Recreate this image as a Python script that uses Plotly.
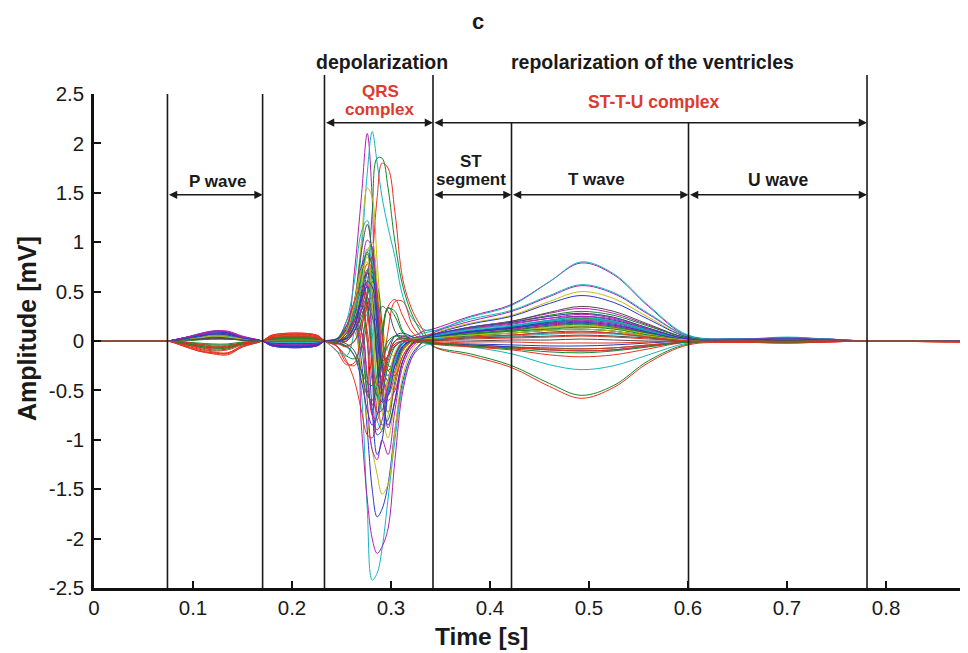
import plotly.graph_objects as go

# ---------------- data ----------------
time_s = [0.000, 0.030, 0.060, 0.074, 0.090, 0.105, 0.120, 0.135, 0.150, 0.170,
          0.180, 0.225, 0.233, 0.245, 0.255, 0.263, 0.270, 0.276, 0.281, 0.286,
          0.291, 0.297, 0.304, 0.312, 0.322, 0.333, 0.342, 0.380, 0.422, 0.460,
          0.492, 0.525, 0.560, 0.600, 0.650, 0.700, 0.740, 0.780, 0.830, 0.875]

# each beat: start(4) | P wave(5) | 0.17 | PR(2) | 0.233 | QRS 0.245..0.342 (14) | ST/T 0.38..0.60 (7) | U/tail (6)
ecg_01 = [0, 0, 0, 0, 0.03, 0.06, 0.09, 0.08, 0.04, 0, 0.02, 0.02, 0, -0.02, 0.1, 0.7, 1.45, 2.1, 1.45, -0.1, -0.25, -0.15, 0.0, 0.05, 0.05, 0.1, 0.12, 0.25, 0.37, 0.6, 0.79, 0.67, 0.35, 0.05, 0.02, 0.03, 0.02, 0, 0.005, 0]
ecg_02 = [0, 0, 0, 0, 0.03, 0.07, 0.1, 0.09, 0.04, 0, 0.01, 0.01, 0, 0.0, 0.05, 0.3, 0.9, 1.7, 2.12, 1.8, 1.45, 1.15, 0.85, 0.45, 0.22, 0.12, 0.1, 0.24, 0.36, 0.6, 0.8, 0.68, 0.36, 0.06, 0.02, 0.04, 0.02, 0, 0.005, 0]
ecg_03 = [0, 0, 0, 0, 0.01, 0.03, 0.05, 0.04, 0.02, 0, 0.03, 0.03, 0, -0.05, -0.15, -0.18, -0.05, 0.5, 1.3, 1.85, 1.85, 1.55, 1.0, 0.55, 0.25, 0.05, -0.05, -0.13, -0.25, -0.43, -0.55, -0.45, -0.2, -0.03, -0.01, -0.01, -0.005, 0, 0, -0.005]
ecg_04 = [0, 0, 0, 0, -0.05, -0.1, -0.13, -0.14, -0.06, 0, 0.06, 0.06, 0, -0.05, -0.22, -0.25, -0.1, 0.2, 0.8, 1.45, 1.8, 1.75, 1.3, 0.62, 0.3, 0.1, -0.05, -0.15, -0.27, -0.46, -0.58, -0.47, -0.22, -0.04, -0.015, -0.02, -0.01, 0, -0.005, -0.01]
ecg_05 = [0, 0, 0, 0, 0.02, 0.05, 0.08, 0.07, 0.03, 0, 0.0, 0.0, 0, 0.0, 0.1, 0.4, 1.0, 1.55, 1.45, 0.8, 0.2, -0.1, -0.15, -0.05, 0.02, 0.05, 0.08, 0.18, 0.26, 0.4, 0.5, 0.43, 0.24, 0.04, 0.01, 0.02, 0.01, 0, 0.005, 0]
ecg_06 = [0, 0, 0, 0, 0.01, 0.02, 0.04, 0.03, 0.01, 0, -0.02, -0.02, 0, 0.02, 0.15, 0.1, -0.5, -1.7, -2.42, -2.35, -2.1, -1.6, -1.0, -0.45, -0.15, -0.05, -0.03, -0.06, -0.13, -0.24, -0.29, -0.25, -0.14, -0.02, 0.0, 0.01, 0.005, 0, 0, 0]
ecg_07 = [0, 0, 0, 0, 0.03, 0.06, 0.09, 0.08, 0.04, 0, -0.04, -0.04, 0, 0.02, 0.1, 0.15, -0.85, -1.6, -2.0, -2.15, -2.08, -1.9, -1.2, -0.5, -0.15, 0.0, 0.08, 0.2, 0.3, 0.45, 0.56, 0.48, 0.27, 0.05, 0.02, 0.03, 0.02, 0, 0.005, 0]
ecg_08 = [0, 0, 0, 0, 0.02, 0.04, 0.06, 0.05, 0.02, 0, -0.05, -0.05, 0, 0.0, 0.1, 0.2, -0.2, -0.9, -1.5, -1.78, -1.7, -1.45, -0.9, -0.4, -0.12, 0.0, 0.06, 0.17, 0.25, 0.38, 0.46, 0.39, 0.22, 0.04, 0.02, 0.03, 0.02, 0, 0, -0.005]
ecg_09 = [0, 0, 0, 0, 0.01, 0.03, 0.04, 0.035, 0.015, 0, 0.01, 0.01, 0, 0.0, 0.05, 0.1, -0.3, -0.8, -1.1, -1.35, -1.55, -1.45, -0.9, -0.35, -0.08, 0.02, 0.05, 0.1, 0.14, 0.19, 0.22, 0.19, 0.1, 0.02, 0.01, 0.01, 0.01, 0, 0, 0]
ecg_10 = [0, 0, 0, 0, 0.02, 0.05, 0.08, 0.07, 0.03, 0, -0.03, -0.03, 0, 0.0, 0.2, 0.35, 0.1, -0.6, -1.1, -1.2, -1.0, -1.15, -0.7, -0.25, -0.05, 0.03, 0.06, 0.14, 0.2, 0.28, 0.33, 0.28, 0.16, 0.03, 0.01, 0.02, 0.01, 0, 0, 0]
ecg_11 = [0, 0, 0, 0, 0.03, 0.06, 0.09, 0.08, 0.03, 0, 0.0, 0.0, 0, 0.0, 0.2, 0.6, 1.1, 1.22, 0.7, -0.2, -0.7, -0.5, -0.2, 0.0, 0.05, 0.08, 0.1, 0.22, 0.31, 0.46, 0.57, 0.49, 0.28, 0.05, 0.02, 0.03, 0.02, 0, 0.005, 0]
ecg_12 = [0, 0, 0, 0, 0.02, 0.04, 0.06, 0.05, 0.02, 0, 0.02, 0.02, 0, -0.03, 0.05, 0.4, 0.9, 1.18, 0.9, 0.3, -0.2, -0.35, -0.2, -0.05, 0.02, 0.05, 0.06, 0.14, 0.2, 0.29, 0.35, 0.3, 0.17, 0.03, 0.01, 0.02, 0.01, 0, 0, 0]
ecg_13 = [0, 0, 0, 0, 0.02, 0.05, 0.07, 0.06, 0.03, 0, -0.02, -0.02, 0, 0.0, 0.05, 0.25, 0.7, 1.02, 0.95, 0.4, -0.3, -0.55, -0.35, -0.1, 0.0, 0.02, 0.03, 0.09, 0.13, 0.18, 0.21, 0.18, 0.1, 0.02, 0.01, 0.01, 0.01, 0, 0, 0]
ecg_14 = [0, 0, 0, 0, 0.02, 0.04, 0.05, 0.04, 0.02, 0, -0.04, -0.04, 0, -0.02, 0.1, 0.35, 0.75, 0.88, 0.5, -0.2, -0.6, -0.5, -0.2, -0.05, 0.0, 0.02, 0.04, 0.1, 0.15, 0.21, 0.25, 0.21, 0.12, 0.02, 0.01, 0.02, 0.01, 0, 0, -0.005]
ecg_15 = [0, 0, 0, 0, -0.02, -0.04, -0.06, -0.05, -0.02, 0, 0.02, 0.02, 0, 0.0, 0.05, 0.15, 0.45, 0.72, 0.7, 0.0, -0.85, -0.8, -0.4, -0.1, 0.0, 0.03, 0.05, 0.13, 0.19, 0.26, 0.3, 0.26, 0.15, 0.03, 0.01, 0.01, 0.005, 0, 0, 0]
ecg_16 = [0, 0, 0, 0, -0.04, -0.08, -0.11, -0.12, -0.05, 0, 0.05, 0.05, 0, -0.05, -0.2, -0.4, -0.7, -0.95, -0.98, -0.6, 0.0, 0.35, 0.42, 0.25, 0.08, 0.0, -0.03, -0.06, -0.09, -0.14, -0.16, -0.14, -0.08, -0.01, -0.01, -0.015, -0.01, 0, -0.005, -0.01]
ecg_17 = [0, 0, 0, 0, 0.03, 0.06, 0.09, 0.085, 0.04, 0, -0.05, -0.05, 0, 0.0, 0.15, 0.4, 0.6, 0.4, -0.3, -0.95, -0.9, -0.5, -0.15, 0.0, 0.03, 0.02, 0.02, 0.07, 0.1, 0.13, 0.15, 0.13, 0.07, 0.01, 0.01, 0.02, 0.01, 0, 0, 0]
ecg_18 = [0, 0, 0, 0, -0.02, -0.05, -0.07, -0.06, -0.02, 0, 0.01, 0.01, 0, 0.02, 0.1, 0.3, 0.2, -0.4, -0.7, -0.5, 0.0, 0.33, 0.3, 0.1, 0.0, 0.02, 0.04, 0.1, 0.14, 0.2, 0.23, 0.2, 0.11, 0.02, 0.01, 0.01, 0.005, 0, 0, 0]
ecg_19 = [0, 0, 0, 0, -0.03, -0.07, -0.1, -0.09, -0.04, 0, 0.04, 0.04, 0, -0.03, 0.0, 0.15, 0.5, 0.78, 0.75, 0.3, -0.5, -0.72, -0.45, -0.15, -0.02, 0.0, 0.0, 0.07, 0.11, 0.16, 0.18, 0.15, 0.08, 0.01, -0.005, -0.01, -0.005, 0, 0, -0.005]
ecg_20 = [0, 0, 0, 0, 0.02, 0.05, 0.07, 0.07, 0.03, 0, 0.0, 0.0, 0, 0.0, 0.05, 0.2, 0.45, 0.55, 0.1, -0.8, -0.9, -0.55, -0.2, -0.03, 0.02, 0.04, 0.05, 0.1, 0.14, 0.18, 0.2, 0.17, 0.09, 0.02, 0.01, 0.02, 0.01, 0, 0, 0]
ecg_21 = [0, 0, 0, 0, 0.03, 0.06, 0.1, 0.1, 0.05, 0, -0.045, -0.045, 0, 0.0, 0.0, 0.1, 0.3, 0.6, 0.75, 0.5, -0.1, -0.6, -0.5, -0.2, -0.03, 0.02, 0.05, 0.12, 0.17, 0.23, 0.27, 0.23, 0.13, 0.02, 0.015, 0.025, 0.015, 0, 0, 0]
ecg_22 = [0, 0, 0, 0, 0.01, 0.03, 0.05, 0.05, 0.02, 0, 0.01, 0.01, 0, 0.0, 0.1, 0.35, 0.7, 0.85, 0.55, -0.3, -0.92, -0.75, -0.35, -0.08, 0.02, 0.04, 0.06, 0.14, 0.19, 0.25, 0.28, 0.24, 0.13, 0.02, 0.01, 0.01, 0.01, 0, 0, 0]
ecg_23 = [0, 0, 0, 0, 0.01, 0.02, 0.03, 0.03, 0.01, 0, 0.0, 0.0, 0, 0.0, 0.02, 0.1, 0.3, 0.44, 0.3, 0.2, 0.35, 0.3, 0.1, 0.0, -0.02, 0.0, 0.02, 0.05, 0.08, 0.11, 0.12, 0.1, 0.05, 0.01, 0.005, 0.01, 0.005, 0, 0, 0]
ecg_24 = [0, 0, 0, 0, 0.02, 0.03, 0.04, 0.03, 0.01, 0, -0.03, -0.03, 0, -0.02, -0.05, -0.15, -0.4, -0.7, -0.85, -0.75, -0.45, -0.15, 0.05, 0.08, 0.04, 0.0, -0.02, -0.03, -0.04, -0.05, -0.05, -0.04, -0.02, 0.0, 0.0, 0.0, 0.0, 0, 0, 0]
ecg_25 = [0, 0, 0, 0, -0.03, -0.06, -0.09, -0.08, -0.03, 0, 0.03, 0.03, 0, 0.02, 0.15, 0.25, -0.05, -0.5, -0.65, -0.35, 0.1, 0.34, 0.25, 0.08, 0.0, -0.02, -0.03, -0.04, -0.06, -0.07, -0.08, -0.07, -0.04, -0.01, -0.005, -0.01, -0.005, 0, 0, -0.005]
ecg_26 = [0, 0, 0, 0, -0.04, -0.09, -0.12, -0.13, -0.06, 0, 0.05, 0.055, 0, -0.1, -0.24, -0.22, 0.1, 0.5, 0.65, 0.3, -0.3, -0.5, -0.3, -0.08, 0.0, 0.0, 0.0, 0.02, 0.03, 0.04, 0.05, 0.04, 0.02, 0.0, -0.01, -0.02, -0.01, 0, -0.005, -0.01]
ecg_27 = [0, 0, 0, 0, 0.02, 0.04, 0.06, 0.06, 0.02, 0, -0.01, -0.01, 0, -0.1, -0.15, 0.1, 0.6, 0.93, 0.8, 0.2, -0.3, -0.35, -0.15, -0.02, 0.03, 0.05, 0.06, 0.12, 0.16, 0.21, 0.24, 0.2, 0.11, 0.02, 0.01, 0.02, 0.01, 0, 0, 0]
ecg_28 = [0, 0, 0, 0, 0.03, 0.07, 0.1, 0.09, 0.04, 0, -0.05, -0.05, 0, 0.0, 0.1, 0.3, 0.5, 0.45, -0.1, -0.72, -0.7, -0.4, -0.15, -0.02, 0.02, 0.03, 0.04, 0.09, 0.12, 0.16, 0.18, 0.15, 0.08, 0.01, 0.015, 0.02, 0.01, 0, 0, 0]
ecg_29 = [0, 0, 0, 0, 0.02, 0.04, 0.06, 0.05, 0.02, 0, 0.02, 0.02, 0, 0.0, 0.02, 0.15, 0.4, 0.62, 0.6, 0.1, -0.7, -0.98, -0.6, -0.2, -0.03, 0.02, 0.03, 0.07, 0.1, 0.14, 0.16, 0.13, 0.07, 0.01, 0.01, 0.01, 0.005, 0, 0, 0]
ecg_30 = [0, 0, 0, 0, 0.01, 0.03, 0.05, 0.04, 0.02, 0, 0.01, 0.01, 0, 0.0, 0.05, 0.2, 0.5, 0.7, 0.45, -0.2, -0.4, -0.2, 0.0, 0.03, 0.02, 0.01, 0.01, 0.04, 0.06, 0.09, 0.1, 0.08, 0.04, 0.0, 0.005, 0.01, 0.005, 0, 0, 0]
ecg_31 = [0, 0, 0, 0, 0.03, 0.06, 0.08, 0.08, 0.03, 0, -0.04, -0.04, 0, 0.02, 0.12, 0.3, 0.35, 0.0, -0.7, -1.15, -1.0, -0.5, -0.15, 0.0, 0.02, 0.0, -0.02, -0.04, -0.06, -0.09, -0.1, -0.09, -0.05, -0.01, 0.0, 0.01, 0.005, 0, 0, 0]
ecg_32 = [0, 0, 0, 0, 0.0, 0.01, 0.02, 0.02, 0.01, 0, 0.025, 0.025, 0, -0.02, -0.05, 0.0, 0.2, 0.45, 0.6, 0.55, 0.15, -0.25, -0.25, -0.08, 0.0, 0.02, 0.03, 0.06, 0.08, 0.11, 0.12, 0.1, 0.05, 0.01, 0.005, 0.01, 0.005, 0, 0, 0]
ecg_33 = [0, 0, 0, 0, -0.02, -0.04, -0.06, -0.06, -0.03, 0, 0.045, 0.045, 0, 0.0, 0.1, 0.3, 0.4, 0.0, -0.75, -0.8, -0.4, 0.1, 0.4, 0.4, 0.15, 0.02, -0.02, -0.05, -0.07, -0.08, -0.08, -0.07, -0.04, -0.01, -0.01, -0.02, -0.01, 0, -0.005, -0.01]
ecg_34 = [0, 0, 0, 0, 0.01, 0.03, 0.05, 0.05, 0.02, 0, 0.0, 0.0, 0, 0.0, 0.05, 0.15, 0.3, 0.25, -0.1, -0.4, -0.35, -0.15, -0.03, 0.0, 0.01, 0.01, 0.02, 0.04, 0.05, 0.07, 0.08, 0.07, 0.04, 0.01, 0.01, 0.02, 0.01, 0, 0, 0]
ecg_35 = [0, 0, 0, 0, 0.03, 0.06, 0.09, 0.09, 0.04, 0, -0.035, -0.035, 0, 0.0, 0.0, 0.1, 0.35, 0.7, 0.85, 0.5, -0.3, -0.88, -0.6, -0.2, -0.03, 0.02, 0.04, 0.09, 0.13, 0.18, 0.2, 0.17, 0.09, 0.02, 0.01, 0.02, 0.01, 0, 0, 0]
ecg_36 = [0, 0, 0, 0, 0.02, 0.04, 0.07, 0.06, 0.03, 0, 0.015, 0.015, 0, 0.0, 0.05, 0.2, 0.55, 0.9, 1.0, 0.6, 0.0, -0.45, -0.35, -0.1, 0.0, 0.02, 0.03, 0.07, 0.1, 0.13, 0.15, 0.13, 0.07, 0.01, 0.01, 0.01, 0.005, 0, 0, 0]
ecg_37 = [0, 0, 0, 0, 0.01, 0.02, 0.03, 0.02, 0.01, 0, 0.005, 0.005, 0, 0.0, -0.03, -0.1, -0.3, -0.55, -0.6, -0.45, -0.2, -0.05, 0.05, 0.05, 0.02, 0.0, 0.0, 0.0, 0.01, 0.01, 0.02, 0.01, 0.0, 0.0, 0.0, 0.005, 0.0, 0, 0, 0]
ecg_38 = [0, 0, 0, 0, 0.02, 0.05, 0.08, 0.08, 0.03, 0, -0.045, -0.045, 0, 0.0, 0.05, 0.2, 0.42, 0.55, 0.4, -0.2, -0.62, -0.55, -0.25, -0.05, 0.01, 0.03, 0.05, 0.1, 0.14, 0.19, 0.22, 0.19, 0.1, 0.02, 0.01, 0.02, 0.01, 0, 0, 0]
ecg_39 = [0, 0, 0, 0, -0.01, -0.03, -0.04, -0.04, -0.02, 0, 0.02, 0.02, 0, 0.0, 0.05, 0.25, 0.65, 0.9, 0.75, 0.25, -0.2, -0.3, -0.15, -0.02, 0.02, 0.03, 0.04, 0.08, 0.11, 0.15, 0.17, 0.14, 0.08, 0.01, 0.005, 0.01, 0.005, 0, 0, 0]
ecg_40 = [0, 0, 0, 0, -0.05, -0.1, -0.12, -0.12, -0.05, 0, 0.06, 0.06, 0, 0.0, 0.05, 0.2, 0.3, 0.1, -0.4, -0.55, -0.4, -0.15, 0.0, 0.02, 0.0, -0.01, -0.02, -0.01, -0.01, -0.02, -0.02, -0.02, -0.01, 0.0, -0.01, -0.01, -0.005, 0, -0.005, -0.01]
ecg_41 = [0, 0, 0, 0, 0.02, 0.04, 0.07, 0.06, 0.03, 0, -0.02, -0.02, 0, 0.0, 0.03, 0.15, 0.45, 0.68, 0.65, 0.25, -0.25, -0.4, -0.25, -0.06, 0.01, 0.03, 0.04, 0.09, 0.13, 0.17, 0.19, 0.16, 0.09, 0.01, 0.01, 0.015, 0.01, 0, 0, 0]
ecg_42 = [0, 0, 0, 0, -0.01, -0.02, -0.03, -0.03, -0.01, 0, 0.015, 0.015, 0, 0.0, 0.08, 0.3, 0.5, 0.35, -0.2, -0.55, -0.5, -0.25, -0.06, 0.0, 0.02, 0.02, 0.03, 0.07, 0.1, 0.12, 0.14, 0.12, 0.06, 0.01, 0.005, 0.01, 0.005, 0, 0, 0]
ecg_43 = [0, 0, 0, 0, -0.03, -0.06, -0.08, -0.07, -0.03, 0, 0.035, 0.035, 0, -0.02, -0.06, 0.0, 0.15, 0.35, 0.45, 0.4, 0.05, -0.3, -0.35, -0.15, -0.03, 0.0, -0.01, -0.05, -0.07, -0.09, -0.1, -0.09, -0.05, -0.01, -0.005, -0.01, -0.005, 0, 0, -0.005]
ecg_44 = [0, 0, 0, 0, 0.02, 0.05, 0.08, 0.07, 0.03, 0, -0.01, -0.01, 0, 0.0, 0.1, 0.3, 0.55, 0.65, 0.3, -0.45, -0.7, -0.5, -0.2, -0.03, 0.02, 0.04, 0.05, 0.11, 0.15, 0.2, 0.22, 0.19, 0.1, 0.02, 0.01, 0.02, 0.01, 0, 0, 0]
ecg_45 = [0, 0, 0, 0, 0.03, 0.06, 0.08, 0.07, 0.03, 0, -0.03, -0.03, 0, 0.0, 0.08, 0.2, 0.1, -0.35, -0.75, -0.9, -0.8, -0.45, -0.15, -0.02, 0.03, 0.05, 0.07, 0.13, 0.18, 0.23, 0.25, 0.22, 0.12, 0.02, 0.01, 0.02, 0.01, 0, 0, 0]
ecg_46 = [0, 0, 0, 0, 0.01, 0.03, 0.05, 0.04, 0.02, 0, 0.005, 0.005, 0, 0.0, 0.1, 0.4, 0.72, 0.8, 0.4, -0.45, -0.6, -0.4, -0.12, 0.0, 0.02, 0.02, 0.03, 0.06, 0.08, 0.11, 0.12, 0.1, 0.05, 0.01, 0.005, 0.01, 0.005, 0, 0, 0]
ecg_47 = [0, 0, 0, 0, 0.01, 0.02, 0.02, 0.02, 0.01, 0, 0.0, 0.0, 0, 0.0, 0.02, 0.1, 0.25, 0.35, 0.25, 0.0, -0.2, -0.15, -0.05, 0.0, 0.01, 0.01, 0.01, 0.03, 0.04, 0.05, 0.06, 0.05, 0.03, 0.0, 0.0, 0.005, 0.0, 0, 0, 0]
ecg_48 = [0, 0, 0, 0, 0.02, 0.05, 0.07, 0.07, 0.03, 0, -0.04, -0.04, 0, 0.0, 0.03, 0.15, 0.4, 0.6, 0.55, 0.1, -0.55, -0.85, -0.6, -0.2, -0.02, 0.03, 0.06, 0.14, 0.19, 0.25, 0.28, 0.24, 0.13, 0.02, 0.01, 0.02, 0.01, 0, 0, 0]
ecg_49 = [0, 0, 0, 0, -0.02, -0.05, -0.07, -0.07, -0.03, 0, 0.03, 0.03, 0, -0.02, -0.06, -0.15, -0.3, -0.42, -0.45, -0.35, -0.15, 0.0, 0.05, 0.03, 0.0, -0.01, -0.02, -0.05, -0.08, -0.11, -0.12, -0.1, -0.06, -0.01, -0.005, -0.01, -0.005, 0, 0, -0.005]
ecg_50 = [0, 0, 0, 0, -0.01, -0.03, -0.05, -0.05, -0.02, 0, 0.03, 0.03, 0, 0.0, 0.15, 0.4, 0.55, 0.3, -0.2, -0.45, -0.35, -0.15, -0.03, 0.0, 0.01, 0.01, 0.01, 0.04, 0.06, 0.08, 0.09, 0.08, 0.04, 0.0, 0.0, -0.005, 0.0, 0, 0, -0.005]

ecg_beats = [ecg_01, ecg_02, ecg_03, ecg_04, ecg_05, ecg_06, ecg_07, ecg_08, ecg_09, ecg_10,
             ecg_11, ecg_12, ecg_13, ecg_14, ecg_15, ecg_16, ecg_17, ecg_18, ecg_19, ecg_20,
             ecg_21, ecg_22, ecg_23, ecg_24, ecg_25, ecg_26, ecg_27, ecg_28, ecg_29, ecg_30,
             ecg_31, ecg_32, ecg_33, ecg_34, ecg_35, ecg_36, ecg_37, ecg_38, ecg_39, ecg_40,
             ecg_41, ecg_42, ecg_43, ecg_44, ecg_45, ecg_46, ecg_47, ecg_48, ecg_49, ecg_50]

# MATLAB-style colour letter for each beat
beat_colors = ["m", "c", "g", "r", "y", "c", "m", "b", "y", "m",
               "c", "k", "m", "b", "g", "r", "b", "g", "r", "c",
               "m", "y", "k", "b", "g", "r", "c", "m", "y", "k",
               "b", "g", "r", "c", "m", "y", "k", "b", "g", "r",
               "b", "g", "r", "c", "m", "y", "k", "b", "g", "r"]

palette = {"b": "#2a37c4", "g": "#13862a", "r": "#e6321f", "c": "#14b5bd",
           "m": "#b01fae", "y": "#c2bb14", "k": "#4d4d4d"}

# segment boundaries (s)
t_p_on, t_p_off, t_qrs_on, t_qrs_off, t_st_off, t_t_off, t_u_off = 0.0742, 0.1703, 0.2328, 0.3424, 0.4217, 0.6005, 0.7808

y_ticks = [-2.5, -2, -1.5, -1, -0.5, 0, 0.5, 1, 1.5, 2, 2.5]
y_tick_labels = ["-2.5", "-2", "-1.5", "-1", "-0.5", "0", "0.5", "1", "1.5", "2", "2.5"]
x_ticks = [0, 0.1, 0.2, 0.3, 0.4, 0.5, 0.6, 0.7, 0.8]
x_tick_labels = ["0", "0.1", "0.2", "0.3", "0.4", "0.5", "0.6", "0.7", "0.8"]

# ---------------- figure ----------------
FONT = "Liberation Sans, Arial, Helvetica, sans-serif"
INK = "#1a1a1a"
fig = go.Figure()

for vals, col in zip(ecg_beats, beat_colors):
    fig.add_trace(go.Scatter(x=time_s, y=vals, mode="lines",
                             line=dict(color=palette[col], width=1, shape="spline", smoothing=1),
                             showlegend=False, hoverinfo="skip"))

# plot area on the page: x 94..968 px, y 94..588 px (page body adds 8 px)
def py(pix):
    return (588 - pix) / 494.0

shapes = []
for xv, ytop in [(t_p_on, 1.0), (t_p_off, 1.0), (t_qrs_on, py(75)), (t_qrs_off, py(75)),
                 (t_st_off, py(123)), (t_t_off, py(123)), (t_u_off, py(75))]:
    shapes.append(dict(type="line", xref="x", yref="paper", x0=xv, x1=xv, y0=0, y1=ytop,
                       line=dict(color=INK, width=1.6), layer="above"))

annotations = []
arrow_y_top = 2.21
arrow_y_low = 1.48
for x0, x1, yv in [(t_qrs_on, t_qrs_off, arrow_y_top), (t_qrs_off, t_u_off, arrow_y_top),
                   (t_p_on, t_p_off, arrow_y_low), (t_qrs_off, t_st_off, arrow_y_low),
                   (t_st_off, t_t_off, arrow_y_low), (t_t_off, t_u_off, arrow_y_low)]:
    annotations.append(dict(x=x1, y=yv, ax=x0, ay=yv, xref="x", yref="y", axref="x", ayref="y",
                            text="", showarrow=True, arrowhead=2, arrowside="end+start",
                            arrowsize=1.1, arrowwidth=1.5, arrowcolor=INK,
                            standoff=0, startstandoff=0))

def label(text, x, ypix, size, color=INK):
    annotations.append(dict(text="<b>%s</b>" % text, x=x, y=py(ypix), xref="x", yref="paper",
                            showarrow=False, xanchor="center", yanchor="middle", borderpad=0,
                            font=dict(family=FONT, size=size, color=color)))

RED = "#e03a2e"
label("c", 0.3876, 22, 22)
label("depolarization", 0.2913, 62, 19.5)
label("repolarization of the ventricles", 0.5643, 62, 19.5)
label("QRS", 0.2893, 91, 17, RED)
label("complex", 0.2893, 109, 17, RED)
label("ST-T-U complex", 0.5654, 102, 17.5, RED)
label("P wave", 0.1244, 181, 17)
label("ST", 0.381, 161, 17)
label("segment", 0.381, 179, 17)
label("T wave", 0.5076, 179, 17)
label("U wave", 0.691, 180, 17.5)

# axis titles
annotations.append(dict(text="<b>Time [s]</b>", x=(482 - 94) / 874.0, y=py(636), xref="paper", yref="paper",
                        showarrow=False, xanchor="center", yanchor="middle",
                        font=dict(family=FONT, size=24.5, color=INK)))
annotations.append(dict(text="<b>Amplitude [mV]</b>", x=(27 - 94) / 874.0, y=py(329), xref="paper", yref="paper",
                        showarrow=False, xanchor="center", yanchor="middle", textangle=-90,
                        font=dict(family=FONT, size=25, color=INK)))

fig.update_layout(
    width=960, height=645,
    margin=dict(l=86, r=0, t=86, b=65),
    paper_bgcolor="white", plot_bgcolor="white",
    shapes=shapes, annotations=annotations,
    font=dict(family=FONT, color=INK),
    xaxis=dict(range=[0, 0.8828], tickvals=x_ticks, ticktext=x_tick_labels,
               showgrid=False, zeroline=False, showline=True, linecolor="#111111", linewidth=2.5,
               ticks="inside", ticklen=7, tickwidth=2, tickcolor="#111111",
               tickfont=dict(family=FONT, size=20.5, color=INK), ticklabelstandoff=0),
    yaxis=dict(range=[-2.5, 2.5], tickvals=y_ticks, ticktext=y_tick_labels,
               showgrid=False, zeroline=False, showline=True, linecolor="#111111", linewidth=2.5,
               ticks="inside", ticklen=7, tickwidth=2, tickcolor="#111111",
               tickfont=dict(family=FONT, size=20.5, color=INK), ticklabelstandoff=3),
)

fig.write_html("out.html")
